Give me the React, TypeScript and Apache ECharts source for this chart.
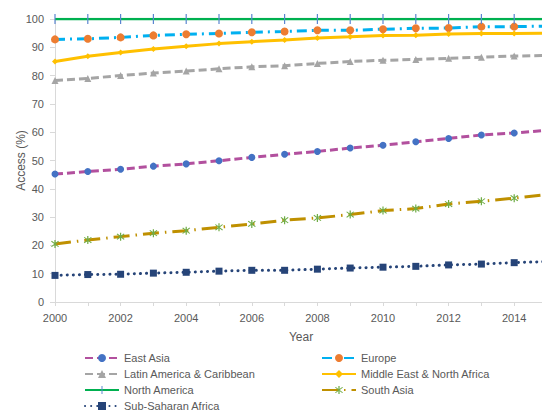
import React, { useEffect, useRef } from "react";
import * as echarts from "echarts";

const years = ["2000","2001","2002","2003","2004","2005","2006","2007","2008","2009","2010","2011","2012","2013","2014","2015"];
const eastAsia = [45.2, 46.1, 46.9, 48.0, 48.8, 49.9, 51.1, 52.2, 53.2, 54.4, 55.4, 56.6, 57.8, 59.0, 59.7, 60.7];
const europe = [92.8, 93.0, 93.5, 94.2, 94.6, 94.9, 95.3, 95.6, 96.0, 96.0, 96.4, 96.7, 96.8, 97.3, 97.3, 97.5];
const latinAmerica = [78.3, 79.0, 80.0, 80.9, 81.6, 82.4, 83.1, 83.5, 84.3, 85.0, 85.4, 85.7, 86.1, 86.5, 86.9, 87.1];
const middleEast = [85.0, 86.8, 88.2, 89.4, 90.4, 91.3, 92.0, 92.6, 93.3, 93.7, 94.2, 94.3, 94.7, 94.9, 94.9, 95.0];
const northAmerica = [100, 100, 100, 100, 100, 100, 100, 100, 100, 100, 100, 100, 100, 100, 100, 100];
const southAsia = [20.5, 21.9, 23.1, 24.3, 25.2, 26.4, 27.6, 28.9, 29.7, 30.9, 32.3, 33.0, 34.6, 35.6, 36.7, 38.0];
const subSaharan = [9.4, 9.7, 9.8, 10.2, 10.5, 10.9, 11.2, 11.2, 11.6, 12.0, 12.3, 12.6, 13.1, 13.4, 13.9, 14.3];

const FONT = "'Liberation Sans', Arial, sans-serif";
const TEXT = "#595959";
const AXIS = "#d9d9d9";

const ASTERISK =
  "path://M-0.6,-5L0.6,-5L0.6,5L-0.6,5Z M-3.9,-3.1L-3.1,-3.9L3.9,3.1L3.1,3.9Z M3.1,-3.9L3.9,-3.1L-3.1,3.9L-3.9,3.1Z";
// thin vertical bar inside a square bounding box (degenerate corner points keep it square)
const VBAR = "path://M-5,-5L-5,-5Z M5,5L5,5Z M-0.6,-5L0.6,-5L0.6,5L-0.6,5Z";

export default function App() {
  const ref = useRef<HTMLDivElement>(null);
  useEffect(() => {
    const chart = echarts.init(ref.current!, null, { renderer: "svg" });
    const legendCommon = {
      orient: "vertical" as const,
      itemWidth: 34,
      itemHeight: 10,
      itemGap: 0,
      padding: 0,
      height: 80,
      textStyle: { color: TEXT, fontSize: 11, fontFamily: FONT, lineHeight: 16 },
    };
    chart.setOption({
      animation: false,
      textStyle: { fontFamily: FONT },
      grid: { left: 55, top: 19, right: -5, bottom: 110, containLabel: false, outerBoundsMode: "none" },
      legend: [
        {
          ...legendCommon,
          left: 84,
          top: 350,
          data: ["East Asia", "Latin America & Caribbean", "North America", "Sub-Saharan Africa"],
        },
        {
          ...legendCommon,
          left: 321,
          top: 350,
          data: ["Europe", "Middle East & North Africa", "South Asia"],
        },
      ],
      xAxis: {
        type: "category",
        data: years,
        boundaryGap: false,
        name: "Year",
        nameLocation: "middle",
        nameGap: 29,
        nameMoveOverlap: false,
        nameTextStyle: { color: TEXT, fontSize: 12, fontFamily: FONT },
        axisLine: { show: true, lineStyle: { color: AXIS, width: 1 } },
        axisTick: { show: true, interval: 0, length: 4, lineStyle: { color: AXIS } },
        axisLabel: { interval: 1, color: TEXT, fontSize: 11, fontFamily: FONT, margin: 10 },
        splitLine: { show: false },
      },
      yAxis: {
        type: "value",
        min: 0,
        max: 100,
        interval: 10,
        name: "Access (%)",
        nameLocation: "middle",
        nameGap: 28,
        nameMoveOverlap: false,
        nameTextStyle: { color: TEXT, fontSize: 12, fontFamily: FONT },
        axisLine: { show: true, lineStyle: { color: AXIS, width: 1 } },
        axisTick: { show: true, length: 5, lineStyle: { color: AXIS } },
        axisLabel: { color: TEXT, fontSize: 11, fontFamily: FONT, margin: 11 },
        splitLine: { show: false },
      },
      series: [
        {
          name: "East Asia",
          type: "line",
          data: eastAsia,
          symbol: "circle",
          symbolSize: 7,
          itemStyle: { color: "#4472C4" },
          lineStyle: { color: "#B2509E", width: 3, type: [8, 4] },
        },
        {
          name: "Europe",
          type: "line",
          data: europe,
          symbol: "circle",
          symbolSize: 8,
          itemStyle: { color: "#ED7D31" },
          lineStyle: { color: "#00B0F0", width: 3, type: [10, 5, 2, 5] },
        },
        {
          name: "Latin America & Caribbean",
          type: "line",
          data: latinAmerica,
          symbol: "triangle",
          symbolSize: 7,
          itemStyle: { color: "#A5A5A5" },
          lineStyle: { color: "#A5A5A5", width: 3, type: [8, 4] },
        },
        {
          name: "Middle East & North Africa",
          type: "line",
          data: middleEast,
          symbol: "diamond",
          symbolSize: 6,
          itemStyle: { color: "#FFC000" },
          lineStyle: { color: "#FFC000", width: 3, type: "solid" },
        },
        {
          name: "North America",
          type: "line",
          data: northAmerica,
          symbol: VBAR,
          symbolSize: 10,
          itemStyle: { color: "#5B86D0" },
          lineStyle: { color: "#00B050", width: 2.5, type: "solid" },
        },
        {
          name: "South Asia",
          type: "line",
          data: southAsia,
          symbol: ASTERISK,
          symbolSize: 8,
          itemStyle: { color: "#70AD47" },
          lineStyle: { color: "#BF9000", width: 3, type: [16, 6, 1.5, 6] },
        },
        {
          name: "Sub-Saharan Africa",
          type: "line",
          data: subSaharan,
          symbol: "rect",
          symbolSize: 7,
          itemStyle: { color: "#264478" },
          lineStyle: { color: "#264478", width: 3, type: [0.1, 6], cap: "round" },
        },
      ],
    });
    return () => chart.dispose();
  }, []);
  return (
    <div
      ref={ref}
      style={{ position: "fixed", left: 0, top: 0, width: 542, height: 412, background: "#fff" }}
    />
  );
}
